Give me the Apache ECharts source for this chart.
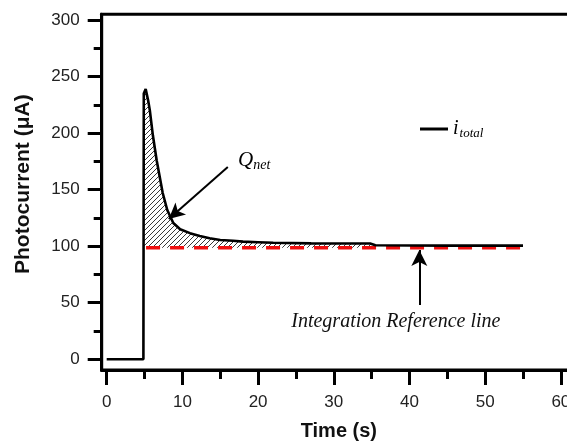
<!DOCTYPE html>
<html>
<head>
<meta charset="utf-8">
<script src="https://cdn.jsdelivr.net/npm/echarts@6.0.0/dist/echarts.min.js"></script>
<style>
  html, body { margin: 0; padding: 0; background: #fff; }
  #chart { width: 567px; height: 441px; }
</style>
</head>
<body>
<div id="chart"></div>
<script>
// photocurrent transient
const timeS = [0, 4.85, 4.9, 5.15, 5.5, 5.7, 6.1, 6.6, 7.4, 8.0, 8.8, 9.7, 11, 12.3, 13.6, 15, 16.7, 18, 20, 22, 27, 34.8, 35.5, 45, 55];
const currentUA = [0, 0, 235, 239, 228, 220, 198, 176, 147, 132, 120.5, 115, 111.5, 109, 107, 105.5, 104.8, 104, 103.5, 103, 102.5, 102.3, 100.8, 100.5, 100.5];
const refLevel = 98.5;          // integration reference line
const refStart = 5.2;
const refEnd = 55;
const hatchEndT = 35.5;         // where the hatched Q_net area stops

const yMajor = [0, 50, 100, 150, 200, 250, 300];
const yMinor = [25, 75, 125, 175, 225, 275];
const xMajor = [0, 10, 20, 30, 40, 50, 60];
const xMinor = [5, 15, 25, 35, 45, 55];

// annotation anchors (data coords)
const qArrow = [[16.0, 170], [8.2, 124]];
const refArrow = [[41.3, 48], [41.3, 96.5]];
const qLabelAt = [17.35, 176];
const refLabelAt = [38.2, 33];

const lineData = timeS.map((t, i) => [t, currentUA[i]]);
// hatched area: from the rise to the end of the decay, above the reference level
const hatchData = [[timeS[1], refLevel]].concat(
  lineData.filter(p => p[0] > timeS[1] && p[0] <= hatchEndT)
);

// diagonal hatch pattern
const tile = document.createElement('canvas');
tile.width = tile.height = 5;
const ctx = tile.getContext('2d');
ctx.strokeStyle = '#222';
ctx.lineWidth = 0.9;
ctx.beginPath();
ctx.moveTo(0, 5); ctx.lineTo(5, 0);
ctx.moveTo(-1, 1); ctx.lineTo(1, -1);
ctx.moveTo(4, 6); ctx.lineTo(6, 4);
ctx.stroke();

const tickFont = { fontFamily: 'Liberation Sans, Arial, sans-serif', fontSize: 17, color: '#222' };
const nameFont = { fontFamily: 'Liberation Sans, Arial, sans-serif', fontSize: 20, fontWeight: 'bold', color: '#111' };

const chart = echarts.init(document.getElementById('chart'));

const option = {
  animation: false,
  backgroundColor: '#fff',
  grid: {
    left: 101.7, top: 14.3, right: -9, bottom: 71,
    outerBoundsMode: 'none', containLabel: false,
    show: true, borderColor: '#000', borderWidth: 3
  },
  legend: {
    data: ['total'],
    left: 415, top: 114,
    icon: 'rect', itemWidth: 28, itemHeight: 3, itemGap: 4,
    formatter: () => '{i|i}{s|total}',
    textStyle: {
      rich: {
        i: { fontFamily: 'Liberation Serif, Times New Roman, serif', fontStyle: 'italic', fontSize: 20, color: '#000' },
        s: { fontFamily: 'Liberation Serif, Times New Roman, serif', fontStyle: 'italic', fontSize: 13, color: '#000', padding: [10, 0, 0, 1] }
      }
    }
  },
  xAxis: [{
    type: 'value', min: -0.66, max: 62,
    name: 'Time (s)', nameLocation: 'middle', nameGap: 51, nameTextStyle: nameFont,
    axisLine: { show: true, onZero: false, lineStyle: { color: '#000', width: 3 } },
    axisTick: { show: true, inside: false, length: 15, lineStyle: { color: '#000', width: 3 }, customValues: xMajor },
    axisLabel: { ...tickFont, margin: 24, customValues: xMajor },
    splitLine: { show: false }
  }, {
    type: 'value', min: -0.66, max: 62, position: 'bottom',
    axisLine: { show: false, onZero: false },
    axisTick: { show: true, inside: false, length: 9, lineStyle: { color: '#000', width: 3 }, customValues: xMinor },
    axisLabel: { show: false },
    splitLine: { show: false }
  }],
  yAxis: [{
    type: 'value', min: -9.5, max: 305,
    name: 'Photocurrent (\u03bcA)', nameLocation: 'middle', nameGap: 68,
    nameTextStyle: { ...nameFont, fontSize: 21, padding: [0, 0, 0, 16] },
    axisLine: { show: true, onZero: false, lineStyle: { color: '#000', width: 3 } },
    axisTick: { show: true, inside: false, length: 14, lineStyle: { color: '#000', width: 3 }, customValues: yMajor },
    axisLabel: { ...tickFont, margin: 22, customValues: yMajor },
    splitLine: { show: false }
  }, {
    type: 'value', min: -9.5, max: 305, position: 'left',
    axisLine: { show: false, onZero: false },
    axisTick: { show: true, inside: false, length: 8, lineStyle: { color: '#000', width: 3 }, customValues: yMinor },
    axisLabel: { show: false },
    splitLine: { show: false }
  }],
  series: [
    {
      name: 'Qnet', type: 'line', data: hatchData, symbol: 'none', silent: true,
      lineStyle: { width: 0 },
      areaStyle: { origin: refLevel, color: { image: tile, repeat: 'repeat' }, opacity: 1 }
    },
    {
      name: 'reference', type: 'line', data: [[refStart, refLevel], [refEnd, refLevel]],
      symbol: 'none', silent: true,
      lineStyle: { color: '#f01010', width: 3.5, type: [14, 10] }
    },
    {
      name: 'total', type: 'line', data: lineData, symbol: 'none',
      lineStyle: { color: '#000', width: 2.6 },
      itemStyle: { color: '#000' },
      markLine: {
        silent: true, animation: false,
        symbol: ['none', 'arrow'], symbolSize: [12, 16],
        lineStyle: { color: '#000', width: 2, type: 'solid' },
        label: { show: false },
        data: [
          [{ coord: qArrow[0] }, { coord: qArrow[1] }],
          [{ coord: refArrow[0] }, { coord: refArrow[1] }]
        ]
      }
    }
  ]
};
chart.setOption(option);

// text annotations placed through the axes
const qPos = chart.convertToPixel({ gridIndex: 0 }, qLabelAt);
const refPos = chart.convertToPixel({ gridIndex: 0 }, refLabelAt);
chart.setOption({
  graphic: [
    {
      type: 'text', x: qPos[0], y: qPos[1],
      style: {
        text: '{q|Q}{s|net}', verticalAlign: 'middle',
        rich: {
          q: { fontFamily: 'Liberation Serif, Times New Roman, serif', fontStyle: 'italic', fontSize: 21, fill: '#000' },
          s: { fontFamily: 'Liberation Serif, Times New Roman, serif', fontStyle: 'italic', fontSize: 14, fill: '#000', padding: [10, 0, 0, 0] }
        }
      }
    },
    {
      type: 'text', x: refPos[0], y: refPos[1],
      style: {
        text: 'Integration Reference line', align: 'center', verticalAlign: 'middle',
        fontFamily: 'Liberation Serif, Times New Roman, serif', fontStyle: 'italic', fontSize: 20, fill: '#111'
      }
    }
  ]
});
</script>
</body>
</html>
